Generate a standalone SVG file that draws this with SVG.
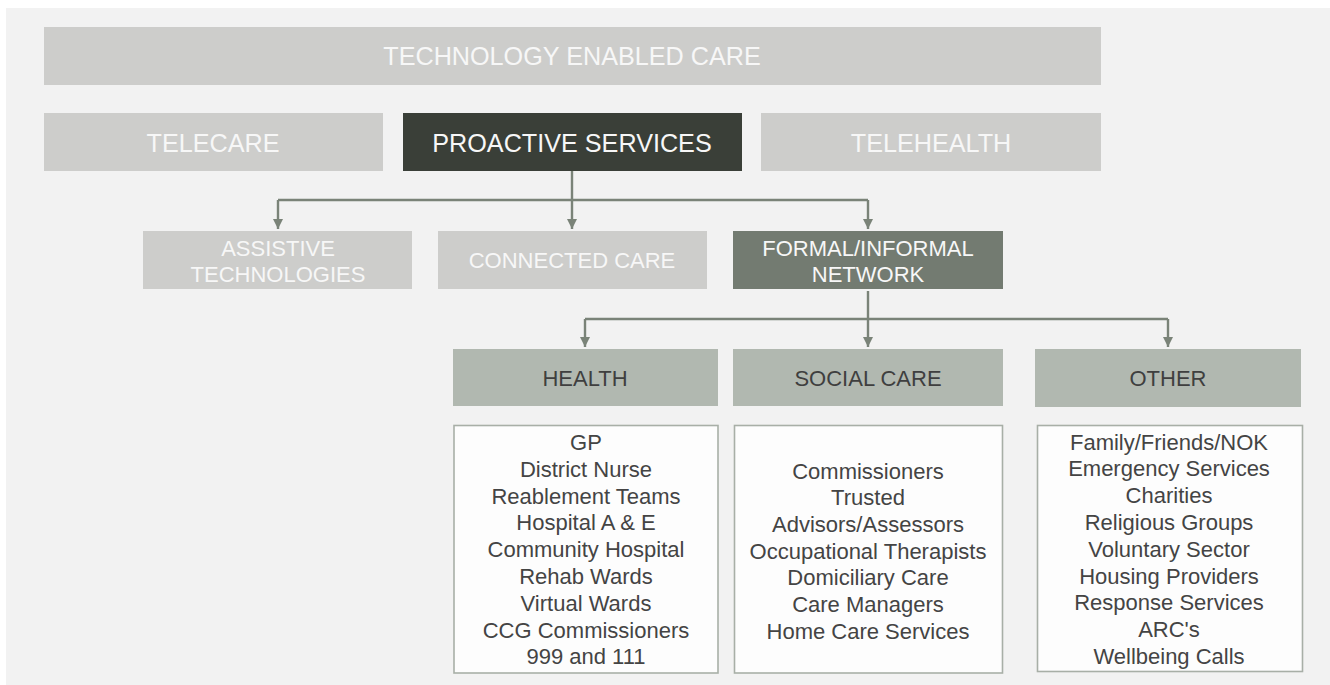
<svg xmlns="http://www.w3.org/2000/svg" width="1330" height="685" viewBox="0 0 1330 685">
<defs>
<style>
text{font-family:"Liberation Sans",Arial,Helvetica,sans-serif;text-anchor:middle}
.light{fill:#cdcdcb}
.lt{fill:#f7f7f7;font-size:25.2px}
.lt22{fill:#f7f7f7;font-size:22px}
.dark{fill:#3a3f38}
.mid{fill:#737b71}
.sub{fill:#b1b8b0}
.st{fill:#3f3f3f;font-size:22px}
.list{fill:#fdfdfd;stroke:#a8afa7;stroke-width:1.6}
.li{fill:#444444;font-size:22px}
.conn{fill:none;stroke:#7a8378;stroke-width:2.4}
</style>
<marker id="arr" viewBox="0 0 10 10" refX="10" refY="5" markerWidth="10" markerHeight="10" markerUnits="userSpaceOnUse" orient="auto">
<path d="M0,0 L10,5 L0,10 Z" fill="#7a8378"/>
</marker>
</defs>
<rect x="0" y="0" width="1330" height="685" fill="#ffffff"/>
<rect x="6" y="8" width="1324" height="677" fill="#f2f2f2"/>

<g id="connectors">
<path class="conn" d="M572,171 V229" marker-end="url(#arr)"/>
<path class="conn" d="M278,200 H868"/>
<path class="conn" d="M278,200 V229" marker-end="url(#arr)"/>
<path class="conn" d="M868,200 V229" marker-end="url(#arr)"/>
<path class="conn" d="M868,291 V347" marker-end="url(#arr)"/>
<path class="conn" d="M585,319 H1168"/>
<path class="conn" d="M585,319 V347" marker-end="url(#arr)"/>
<path class="conn" d="M1168,319 V347" marker-end="url(#arr)"/>
</g>

<g id="tec">
<rect class="light" x="44" y="27" width="1057" height="58"/>
<text class="lt" x="572" y="65">TECHNOLOGY ENABLED CARE</text>
</g>
<g id="telecare">
<rect class="light" x="44" y="113" width="339" height="58"/>
<text class="lt" x="213" y="152">TELECARE</text>
</g>
<g id="proactive">
<rect class="dark" x="403" y="113" width="339" height="58"/>
<text class="lt" x="572" y="152">PROACTIVE SERVICES</text>
</g>
<g id="telehealth">
<rect class="light" x="761" y="113" width="340" height="58"/>
<text class="lt" x="931" y="152">TELEHEALTH</text>
</g>

<g id="assistive">
<rect class="light" x="143" y="231" width="269" height="58"/>
<text class="lt22" x="278" y="256">ASSISTIVE</text>
<text class="lt22" x="278" y="282">TECHNOLOGIES</text>
</g>
<g id="connected">
<rect class="light" x="438" y="231" width="269" height="58"/>
<text class="lt22" x="572" y="268">CONNECTED CARE</text>
</g>
<g id="network">
<rect class="mid" x="733" y="231" width="270" height="58"/>
<text class="lt22" x="868" y="256">FORMAL/INFORMAL</text>
<text class="lt22" x="868" y="282">NETWORK</text>
</g>

<g id="health">
<rect class="sub" x="453" y="349" width="265" height="57"/>
<text class="st" x="585" y="386">HEALTH</text>
</g>
<g id="socialcare">
<rect class="sub" x="733" y="349" width="270" height="57"/>
<text class="st" x="868" y="386">SOCIAL CARE</text>
</g>
<g id="other">
<rect class="sub" x="1035" y="349" width="266" height="58"/>
<text class="st" x="1168" y="386">OTHER</text>
</g>

<g id="health-list">
<rect class="list" x="454" y="425.5" width="264" height="247.5"/>
<text class="li" x="586" y="450">GP</text>
<text class="li" x="586" y="477">District Nurse</text>
<text class="li" x="586" y="503.6">Reablement Teams</text>
<text class="li" x="586" y="530.4">Hospital A &amp; E</text>
<text class="li" x="586" y="557.2">Community Hospital</text>
<text class="li" x="586" y="584">Rehab Wards</text>
<text class="li" x="586" y="610.8">Virtual Wards</text>
<text class="li" x="586" y="637.6">CCG Commissioners</text>
<text class="li" x="586" y="664.4">999 and 111</text>
</g>
<g id="social-list">
<rect class="list" x="734.5" y="425.5" width="268" height="247.5"/>
<text class="li" x="868" y="478.5">Commissioners</text>
<text class="li" x="868" y="505.2">Trusted</text>
<text class="li" x="868" y="531.9">Advisors/Assessors</text>
<text class="li" x="868" y="558.6">Occupational Therapists</text>
<text class="li" x="868" y="585.3">Domiciliary Care</text>
<text class="li" x="868" y="612">Care Managers</text>
<text class="li" x="868" y="638.7">Home Care Services</text>
</g>
<g id="other-list">
<rect class="list" x="1037.5" y="425.5" width="265" height="246"/>
<text class="li" x="1169" y="449.5">Family/Friends/NOK</text>
<text class="li" x="1169" y="476.3">Emergency Services</text>
<text class="li" x="1169" y="503.1">Charities</text>
<text class="li" x="1169" y="529.9">Religious Groups</text>
<text class="li" x="1169" y="556.7">Voluntary Sector</text>
<text class="li" x="1169" y="583.5">Housing Providers</text>
<text class="li" x="1169" y="610.3">Response Services</text>
<text class="li" x="1169" y="637.1">ARC's</text>
<text class="li" x="1169" y="663.9">Wellbeing Calls</text>
</g>
</svg>
